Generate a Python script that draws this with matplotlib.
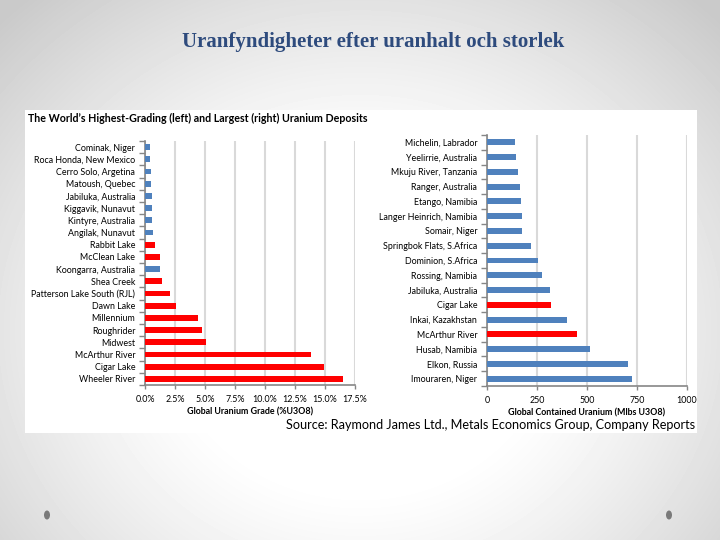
import numpy as np
import matplotlib
matplotlib.use("Agg")
import matplotlib.pyplot as plt
from matplotlib.patches import Rectangle, Ellipse
from matplotlib.ticker import FuncFormatter, FixedLocator

# left panel: highest grade deposits (% U3O8)
grade_names = ["Cominak, Niger", "Roca Honda, New Mexico", "Cerro Solo, Argetina",
               "Matoush, Quebec", "Jabiluka, Australia", "Kiggavik, Nunavut",
               "Kintyre, Australia", "Angilak, Nunavut", "Rabbit Lake", "McClean Lake",
               "Koongarra, Australia", "Shea Creek", "Patterson Lake South (RJL)",
               "Dawn Lake", "Millennium", "Roughrider", "Midwest", "McArthur River",
               "Cigar Lake", "Wheeler River"]
grade_vals = [0.40, 0.42, 0.48, 0.50, 0.55, 0.57, 0.58, 0.69, 0.85, 1.25,
              1.25, 1.4, 2.1, 2.6, 4.4, 4.75, 5.1, 13.8, 14.9, 16.5]
grade_red = [0, 0, 0, 0, 0, 0, 0, 0, 1, 1, 0, 1, 1, 1, 1, 1, 1, 1, 1, 1]
grade_ticks = [0, 2.5, 5.0, 7.5, 10.0, 12.5, 15.0, 17.5]

# right panel: largest deposits (Mlbs U3O8)
size_names = ["Michelin, Labrador", "Yeelirrie, Australia", "Mkuju River, Tanzania",
              "Ranger, Australia", "Etango, Namibia", "Langer Heinrich, Namibia",
              "Somair, Niger", "Springbok Flats, S.Africa", "Dominion, S.Africa",
              "Rossing, Namibia", "Jabiluka, Australia", "Cigar Lake",
              "Inkai, Kazakhstan", "McArthur River", "Husab, Namibia",
              "Elkon, Russia", "Imouraren, Niger"]
size_vals = [140, 143, 153, 163, 170, 173, 177, 220, 253, 275, 315, 318,
             400, 450, 513, 703, 725]
size_red = [0, 0, 0, 0, 0, 0, 0, 0, 0, 0, 0, 1, 0, 1, 0, 0, 0]
size_ticks = [0, 250, 500, 750, 1000]

BLUE = "#4f81bd"
RED = "#ff0000"
GRID = "#d9d9d9"
AXC = "#868686"
W, H = 720, 540

fig = plt.figure(figsize=(7.2, 5.4), dpi=100)


def box(x0, y0, x1, y1):
    # pixel box (top-left origin) -> figure fraction
    return [x0 / W, 1 - y1 / H, (x1 - x0) / W, (y1 - y0) / H]


# slide background with soft radial shading
bg = fig.add_axes([0, 0, 1, 1])
yy, xx = np.mgrid[0:H, 0:W]
r = np.sqrt(((xx - 360) / 430.0) ** 2 + ((yy - 330) / 380.0) ** 2)
shade = 1 - 0.21 * np.clip((r - 0.42) / 0.75, 0, 1) ** 1.2
bg.imshow(shade, cmap="gray", vmin=0, vmax=1, extent=[0, W, H, 0], aspect="auto")
bg.set_xlim(0, W)
bg.set_ylim(H, 0)
bg.axis("off")
bg.add_patch(Rectangle((25, 110), 672, 323, facecolor="white", edgecolor="none"))
for cx in (47, 669):
    bg.add_patch(Ellipse((cx, 515), 6, 9, facecolor="#7a7a7a", edgecolor="none"))

bg.text(373, 42, "Uranfyndigheter efter uranhalt och storlek", ha="center", va="center",
        family="Liberation Serif", fontweight="bold", fontsize=15, color="#2e4b7d")
bg.text(28, 118, "The World\u2019s Highest-Grading (left) and Largest (right) Uranium Deposits",
        ha="left", va="center", family="Lato", fontweight="bold", fontsize=7.7, color="black")
bg.text(695, 425, "Source: Raymond James Ltd., Metals Economics Group, Company Reports",
        ha="right", va="center", family="Lato", fontsize=9.1, color="black")


def panel(rect, names, vals, red, ticks, xmax, fmt, xlabel, bar_h):
    ax = fig.add_axes(rect)
    n = len(names)
    pos = np.arange(n)
    colors = [RED if f else BLUE for f in red]
    ax.barh(pos, vals, height=bar_h, color=colors, zorder=3)
    ax.set_ylim(n - 0.5, -0.5)
    ax.set_xlim(0, xmax)
    ax.set_yticks(pos)
    ax.set_yticklabels(names, family="Lato", fontsize=6.4)
    ax.yaxis.set_minor_locator(FixedLocator(np.arange(n + 1) - 0.5))
    ax.tick_params(axis="y", which="major", length=0, pad=7)
    ax.tick_params(axis="y", which="minor", length=4, width=1, color=AXC)
    ax.set_xticks(ticks)
    ax.xaxis.set_major_formatter(FuncFormatter(fmt))
    ax.tick_params(axis="x", length=3, width=1, color=AXC, pad=4, labelsize=6.4)
    for lab in ax.get_xticklabels():
        lab.set_family("Lato")
    ax.grid(axis="x", color=GRID, lw=1.5, zorder=0)
    ax.set_axisbelow(True)
    for s in ("top", "right"):
        ax.spines[s].set_visible(False)
    for s in ("left", "bottom"):
        ax.spines[s].set_color(AXC)
        ax.spines[s].set_linewidth(1.2)
    ax.set_xlabel(xlabel, family="Lato", fontweight="bold", fontsize=6.4, labelpad=3)
    ax.set_facecolor("white")
    return ax


panel(box(145, 141, 355, 385), grade_names, grade_vals, grade_red, grade_ticks, 17.5,
      lambda v, p: f"{v:.1f}%", "Global Uranium Grade (%U3O8)", 0.47)
panel(box(487, 135, 687, 386), size_names, size_vals, size_red, size_ticks, 1000,
      lambda v, p: f"{v:.0f}", "Global Contained Uranium (Mlbs U3O8)", 0.4)

fig.savefig("out.png", dpi=100)
